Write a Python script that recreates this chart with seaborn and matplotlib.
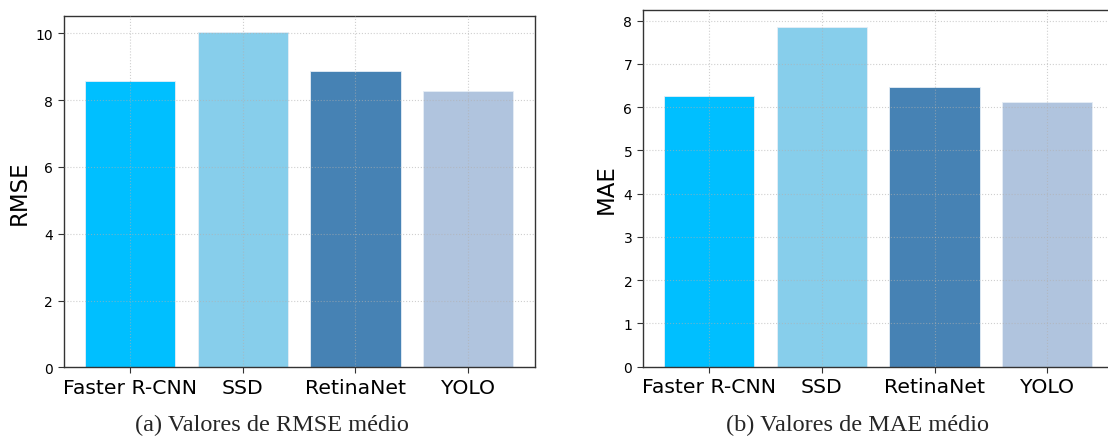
import matplotlib
matplotlib.use("Agg")
import matplotlib.pyplot as plt
import pandas as pd
import seaborn as sns

MODELOS = ["Faster R-CNN", "SSD", "RetinaNet", "YOLO"]
RMSE = [8.59, 10.03, 8.88, 8.28]
MAE = [6.25, 7.86, 6.46, 6.11]
CORES = ["#00BFFF", "#87CEEB", "#4682B4", "#B0C4DE"]
LEGENDAS = ["(a) Valores de RMSE médio", "(b) Valores de MAE médio"]

sns.set_style("ticks")
plt.rcParams["font.family"] = ["DejaVu Sans"]

W, H = 1108, 439
fig = plt.figure(figsize=(W / 100, H / 100), dpi=100)


def eixo(x0, y0, x1, y1):
    # caixa em pixels -> fracao da figura
    return fig.add_axes([x0 / W, 1 - y1 / H, (x1 - x0) / W, (y1 - y0) / H])


def painel(ax, valores, rotulo):
    df = pd.DataFrame({"modelo": MODELOS, "valor": valores})
    sns.barplot(data=df, x="modelo", y="valor", hue="modelo", palette=CORES,
                legend=False, width=0.8, saturation=1, ax=ax,
                edgecolor="#e6eef6", linewidth=0.6)
    ax.set_xlim(-0.59, 3.59)
    ax.set_ylim(0, max(valores) * 1.05)
    ax.grid(True, linestyle=":", color="#b0b0b0", alpha=0.6, linewidth=0.8)
    ax.set_axisbelow(False)
    ax.set_xlabel("")
    ax.set_ylabel(rotulo, fontsize=16.5, color="black")
    ax.tick_params(axis="x", labelsize=14.7, length=4, color="#333333", labelcolor="black")
    ax.tick_params(axis="y", labelsize=10, length=4, color="#333333", labelcolor="black")
    for s in ax.spines.values():
        s.set_visible(True)
        s.set_color("#333333")
        s.set_linewidth(1.0)


ax1 = eixo(63.5, 16.7, 534.7, 368.3)
painel(ax1, RMSE, "RMSE")
ax1.yaxis.set_label_coords(-0.069, 0.5)

ax2 = eixo(642.7, 10.7, 1113.7, 367.7)
painel(ax2, MAE, "MAE")
ax2.yaxis.set_label_coords(-0.052, 0.5)

serif = ["Liberation Serif", "DejaVu Serif"]
fig.text(272 / W, 1 - 425 / H, LEGENDAS[0], ha="center", va="center",
         fontsize=17.5, family=serif)
fig.text(858 / W, 1 - 425 / H, LEGENDAS[1], ha="center", va="center",
         fontsize=17.5, family=serif)

fig.savefig("out.png", dpi=100)
